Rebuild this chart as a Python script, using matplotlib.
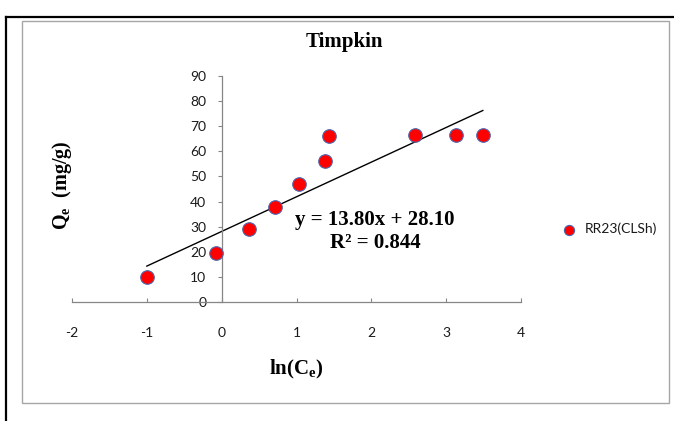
import numpy as np
import matplotlib.pyplot as plt
from matplotlib.lines import Line2D
from matplotlib.patches import Rectangle

# Data
ln_ce = [-1.00, -0.07, 0.36, 0.71, 1.04, 1.38, 1.44, 2.59, 3.13, 3.49]
qe = [10.0, 19.5, 29.0, 38.0, 47.0, 56.0, 66.0, 66.5, 66.5, 66.5]
slope = 13.80
intercept = 28.10
r2 = 0.844
x_ticks = [-2, -1, 0, 1, 2, 3, 4]
y_ticks = [0, 10, 20, 30, 40, 50, 60, 70, 80, 90]
series_name = 'RR23(CLSh)'

plt.rcParams['axes.unicode_minus'] = False
plt.rcParams['mathtext.fontset'] = 'custom'
plt.rcParams['mathtext.rm'] = 'Liberation Serif:bold'
plt.rcParams['mathtext.it'] = 'Liberation Serif:bold'
plt.rcParams['mathtext.bf'] = 'Liberation Serif:bold'

W, H = 674, 421
fig = plt.figure(figsize=(W / 100, H / 100), dpi=100)

# frame lines (black outer, grey inner box)
fig.add_artist(Line2D([6 / W, 1], [1 - 17 / H, 1 - 17 / H], color='black', lw=1.6))
fig.add_artist(Line2D([6 / W, 6 / W], [0, 1 - 17 / H], color='black', lw=1.6))
fig.add_artist(Rectangle((22 / W, 1 - 403 / H), (669 - 22) / W, (403 - 21) / H,
                         fill=False, edgecolor='#a6a6a6', lw=1.0))

# plot area
ax = fig.add_axes([72 / W, 1 - 302 / H, 449 / W, 226 / H])
ax.set_xlim(-2, 4)
ax.set_ylim(0, 90)

ax.scatter(ln_ce, qe, s=95, color='#ff0000', edgecolors='#4a66ac', linewidths=0.8,
           zorder=3, clip_on=False, label=series_name)

x_fit = np.array([min(ln_ce), max(ln_ce)])
ax.plot(x_fit, slope * x_fit + intercept, color='black', lw=1.0, zorder=2)

for s in ['top', 'right']:
    ax.spines[s].set_visible(False)
ax.spines['left'].set_position(('data', 0))
for s in ['left', 'bottom']:
    ax.spines[s].set_color('#868686')
    ax.spines[s].set_linewidth(0.9)

ax.set_xticks(x_ticks)
ax.set_yticks(y_ticks)
ax.tick_params(axis='x', direction='in', length=3, width=0.8, color='#868686',
               pad=18, labelsize=10, labelcolor='#1a1a1a')
ax.tick_params(axis='y', direction='out', length=3, width=0.8, color='#868686',
               pad=8, labelsize=10, labelcolor='#1a1a1a')
for lab in ax.get_xticklabels() + ax.get_yticklabels():
    lab.set_fontfamily('Lato')

# texts
fig.text(344 / W, 1 - 42 / H, 'Timpkin', ha='center', va='center',
         fontfamily='Liberation Serif', fontweight='bold', fontsize=15)
fig.text(296 / W, 1 - 369 / H, r'ln(C$_\mathrm{e}$)', ha='center', va='center',
         fontfamily='Liberation Serif', fontweight='bold', fontsize=15)
fig.text(62 / W, 1 - 185 / H, r'Q$_\mathrm{e}$  (mg/g)', ha='center', va='center',
         rotation=90, fontfamily='Liberation Serif', fontweight='bold', fontsize=14.5)
fig.text(375 / W, 1 - 220 / H, f'y = {slope:.2f}x + {intercept:.2f}', ha='center', va='center',
         fontfamily='Liberation Serif', fontweight='bold', fontsize=15)
fig.text(375 / W, 1 - 243 / H, f'R² = {r2:.3f}', ha='center', va='center',
         fontfamily='Liberation Serif', fontweight='bold', fontsize=15)

# legend
fig.legend(loc='center left', bbox_to_anchor=(543 / W, 1 - 229 / H), frameon=False,
           handletextpad=0.1, markerscale=0.75, prop={'family': 'Lato', 'size': 10},
           labelcolor='#1a1a1a')

fig.savefig('out.png', dpi=100)
